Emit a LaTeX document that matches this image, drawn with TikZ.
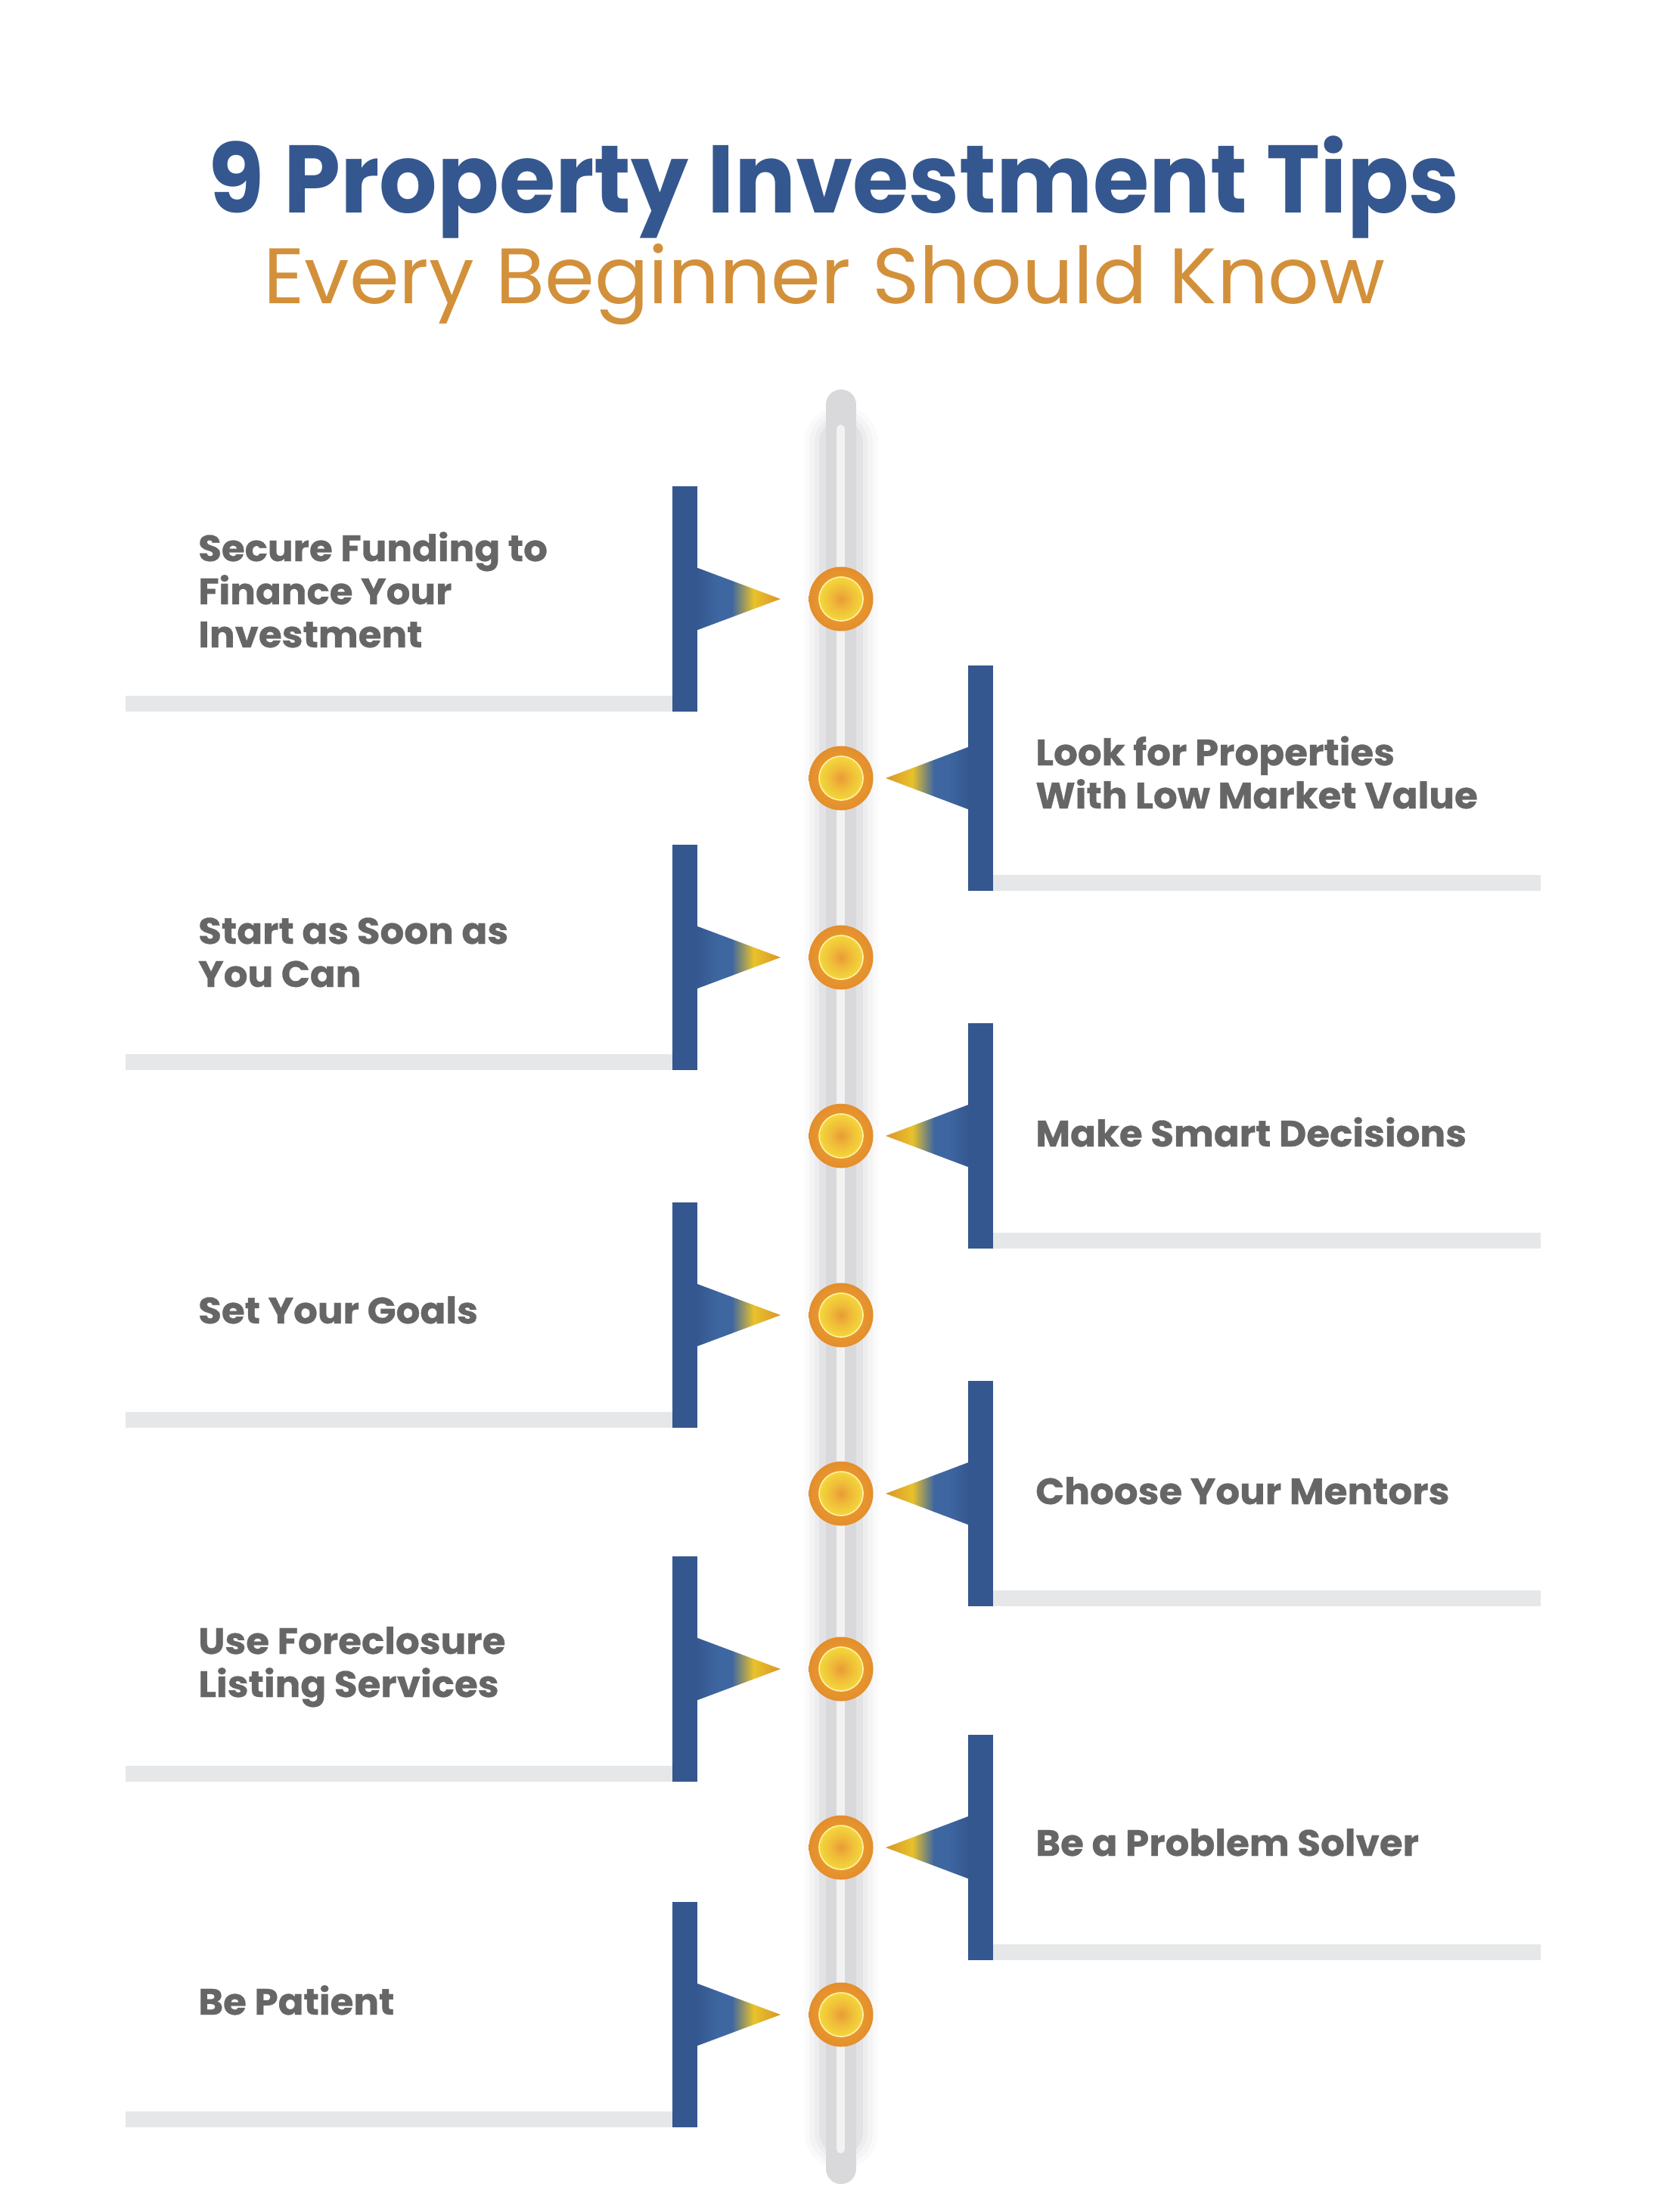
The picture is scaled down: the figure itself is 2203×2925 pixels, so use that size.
\documentclass[tikz,border=0pt]{standalone}
\usepackage{fontspec}
\setmainfont{Poppins}
\newfontfamily\popp{Poppins}
\newfontfamily\tipfont{Poppins}[BoldFeatures={FakeStretch=1.03,FakeBold=0.6}]
\newfontfamily\titlefont{Poppins}[BoldFeatures={FakeStretch=0.947}]
\newfontfamily\subfont{Poppins}[FakeStretch=1.02]
\definecolor{tblue}{HTML}{35578F}
\definecolor{lblue}{HTML}{3E67A1}
\definecolor{tyel}{HTML}{E9C22B}
\definecolor{torg}{HTML}{D8962A}
\definecolor{ttxt}{HTML}{666666}
\definecolor{tgrayb}{HTML}{E6E7E8}
\definecolor{spinec}{HTML}{D9D9DB}
\definecolor{spinehi}{HTML}{F2F2F3}
\definecolor{ringc}{HTML}{E8962F}
\definecolor{ringd}{HTML}{E38E2C}
\definecolor{coreY}{HTML}{F4D83B}
\definecolor{coreO}{HTML}{EA9A36}
\definecolor{coreline}{HTML}{FFF2A8}
\definecolor{titleB}{HTML}{35578F}
\definecolor{titleO}{HTML}{D3903A}
\definecolor{glowc}{HTML}{D2D2D7}
\pgfdeclarehorizontalshading{triL}{100bp}{color(0bp)=(tblue); color(25bp)=(tblue); color(38bp)=(lblue); color(46bp)=(lblue); color(59bp)=(tyel); color(75bp)=(torg); color(100bp)=(torg)}
\pgfdeclarehorizontalshading{triR}{100bp}{color(0bp)=(torg); color(25bp)=(torg); color(41bp)=(tyel); color(54bp)=(lblue); color(62bp)=(lblue); color(75bp)=(tblue); color(100bp)=(tblue)}
\pgfdeclareradialshading{coreSh}{\pgfpoint{0bp}{0bp}}{color(0bp)=(coreO); color(12bp)=(coreY!55!coreO); color(25bp)=(coreY); color(50bp)=(coreY)}
\pgfdeclareradialshading{ringSh}{\pgfpoint{0bp}{0bp}}{color(0bp)=(ringc); color(17bp)=(ringc); color(25bp)=(ringd); color(50bp)=(ringd)}
\tikzset{
  tiptext/.style={inner sep=0pt, anchor=base west, text=ttxt,
    font=\tipfont\bfseries\fontsize{48.5}{57}\selectfont},
  titletext/.style={inner sep=0pt, anchor=base, text=titleB,
    font=\titlefont\bfseries\fontsize{127}{140}\selectfont},
  subtext/.style={inner sep=0pt, anchor=base, text=titleO,
    font=\subfont\fontsize{104}{120}\selectfont},
}
\begin{document}
\begin{tikzpicture}[x=1pt,y=-1pt]
\useasboundingbox (0,0) rectangle (2203,2925);
\fill[white] (0,0) rectangle (2203,2925);
% title
\node[titletext] (title) at (1103,281) {9 Property Investment Tips};
\node[subtext] (subtitle) at (1090,401) {Every Beginner Should Know};
% spine glow
\foreach \w/\o in {97/0.10,84/0.14,70/0.20,58/0.35}{
  \draw[glowc, line width=\w, line cap=round, opacity=\o] (1112,585) -- (1112,2820);
}
\draw[spinec, line width=40, line cap=round] (1112,535) -- (1112,2868);
\draw[spinehi, line width=11, line cap=round] (1111.5,567) -- (1111.5,2842);
% left tips
\foreach \c in {792,1266,1739,2207,2664}{
  \fill[tgrayb] (166,\c+128) rectangle (889,\c+149);
  \fill[tblue] (889,\c-149) rectangle (922,\c+149);
  \shade[shading=triL] (921,\c-41.5) -- (1032,\c) -- (921,\c+41.5) -- cycle;
}
% right tips
\foreach \c in {1029,1502,1975,2443}{
  \fill[tgrayb] (1313,\c+128) rectangle (2037,\c+149);
  \fill[tblue] (1280,\c-149) rectangle (1313,\c+149);
  \shade[shading=triR] (1281,\c-41.5) -- (1171,\c) -- (1281,\c+41.5) -- cycle;
}
% dots
\foreach \c in {792,1029,1266,1502,1739,1975,2207,2443,2664}{
  \shade[shading=ringSh] (1112,\c) circle (42.5);
  \shade[shading=coreSh] (1112,\c) circle (29);
  \draw[coreline, line width=1.6] (1112,\c) circle (29);
}
% texts
\node[tiptext] (t1) at (262,742) {\vtop{\hbox{Secure Funding to}\hbox{Finance Your}\hbox{Investment}}};
\node[tiptext] (t2) at (1369,1012) {\vtop{\hbox{Look for Properties}\hbox{With Low Market Value}}};
\node[tiptext] (t3) at (262,1248) {\vtop{\hbox{Start as Soon as}\hbox{You Can}}};
\node[tiptext] (t4) at (1369,1516) {Make Smart Decisions};
\node[tiptext] (t5) at (262,1750) {Set Your Goals};
\node[tiptext] (t6) at (1369,1989) {Choose Your Mentors};
\node[tiptext] (t7) at (262,2187) {\vtop{\hbox{Use Foreclosure}\hbox{Listing Services}}};
\node[tiptext] (t8) at (1369,2454) {Be a Problem Solver};
\node[tiptext] (t9) at (262,2664) {Be Patient};
\end{tikzpicture}
\end{document}
